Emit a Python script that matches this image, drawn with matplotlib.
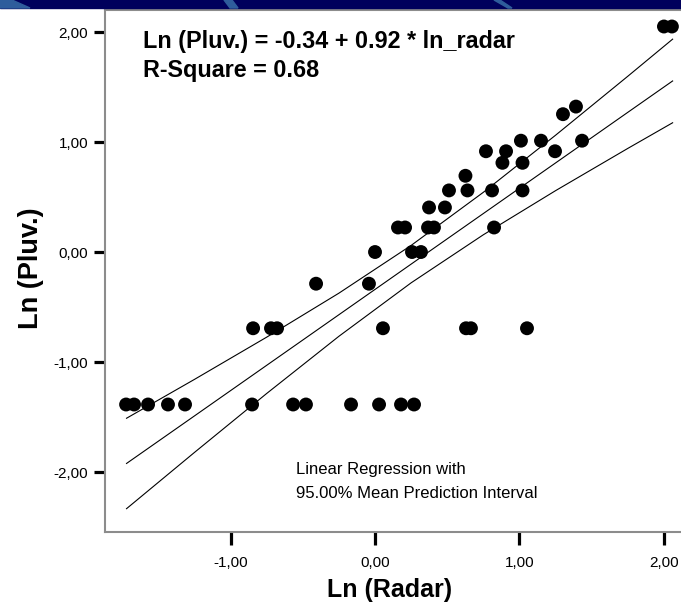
import matplotlib

matplotlib.use("Agg")
import matplotlib.pyplot as plt
from matplotlib.patches import Rectangle, Polygon

plt.rcParams["font.family"] = ["Liberation Sans", "DejaVu Sans"]

# scatter data (ln radar vs ln gauge)
ln_radar = [
    -1.723, -1.668, -1.571, -1.433, -1.315, -0.851, -0.567, -0.478, -0.166, 0.028, 0.180, 0.270,
    -0.844, -0.720, -0.678, 0.055, 0.630, 0.664, 1.052,
    -0.408, -0.042,
    0.000, 0.256, 0.318,
    0.159, 0.208, 0.367, 0.408, 0.824,
    0.374, 0.484,
    0.512, 0.640, 0.810, 1.021,
    0.626,
    0.882, 1.021,
    0.768, 0.907, 1.246,
    1.010, 1.149, 1.433,
    1.301,
    1.391,
    2.000, 2.055,
]
ln_pluv = (
    [-1.386] * 12 + [-0.693] * 7 + [-0.288] * 2 + [0.0] * 3 + [0.223] * 5
    + [0.405] * 2 + [0.560] * 4 + [0.693] + [0.811] * 2 + [0.916] * 3
    + [1.012] * 3 + [1.253] + [1.322] + [2.050] * 2
)

# fit line and 95% mean prediction band
band_x = [-1.72, -1.25, -0.75, -0.25, 0.25, 0.75, 1.25, 1.75, 2.06]
fit_y = [-1.922, -1.490, -1.030, -0.570, -0.110, 0.350, 0.810, 1.270, 1.555]
upper_y = [-1.511, -1.158, -0.774, -0.374, 0.060, 0.543, 1.062, 1.598, 1.935]
lower_y = [-2.333, -1.822, -1.286, -0.766, -0.280, 0.157, 0.558, 0.942, 1.175]

x_ticks = [-1, 0, 1, 2]
x_tick_labels = ["-1,00", "0,00", "1,00", "2,00"]
y_ticks = [-2, -1, 0, 1, 2]
y_tick_labels = ["-2,00", "-1,00", "0,00", "1,00", "2,00"]

W, H = 681, 606
fig = plt.figure(figsize=(W / 100, H / 100), dpi=100)

# slide background strip at the top
fig.patches.append(Rectangle((0, 1 - 8 / H), 1, 8 / H, transform=fig.transFigure,
                             color="#00005c", zorder=0))
for xs in ([0, 12, 30, 0], [224, 232, 238, 230], [494, 500, 512, 508]):
    pts = [(xs[0] / W, 1), (xs[1] / W, 1), (xs[2] / W, 1 - 8 / H), (xs[3] / W, 1 - 8 / H)]
    fig.patches.append(Polygon(pts, closed=True, transform=fig.transFigure,
                               color="#2f5d9c", zorder=1))

ax = fig.add_axes([105 / W, 74 / H, 576 / W, 522 / H])
ax.set_xlim(-1.869, 2.118)
ax.set_ylim(-2.545, 2.2)

ax.plot(band_x, upper_y, color="black", lw=0.8)
ax.plot(band_x, fit_y, color="black", lw=0.8)
ax.plot(band_x, lower_y, color="black", lw=0.8)
ax.scatter(ln_radar, ln_pluv, s=100, color="black", edgecolors="none", zorder=3)

for side in ("left", "bottom", "top"):
    ax.spines[side].set_color("#8c8c8c")
    ax.spines[side].set_linewidth(1.5)
ax.spines["right"].set_visible(False)

ax.set_xticks(x_ticks)
ax.set_xticklabels(x_tick_labels)
ax.set_yticks(y_ticks)
ax.set_yticklabels(y_tick_labels)
ax.tick_params(axis="x", length=9.5, width=2.3, color="black", pad=8, labelsize=11)
ax.tick_params(axis="y", length=8, width=2.3, color="black", pad=4, labelsize=11)

fig.text(390 / W, 1 - 590 / H, "Ln (Radar)", fontsize=18, fontweight="bold",
         ha="center", va="center")
fig.text(31 / W, 1 - 268 / H, "Ln (Pluv.)", fontsize=19.5, fontweight="bold",
         ha="center", va="center", rotation=90)

fig.text(143 / W, 1 - 48 / H, "Ln (Pluv.) = -0.34 + 0.92 * ln_radar",
         fontsize=16.8, fontweight="bold", va="baseline")
fig.text(143 / W, 1 - 77 / H, "R-Square = 0.68",
         fontsize=16.8, fontweight="bold", va="baseline")
fig.text(296 / W, 1 - 474 / H, "Linear Regression with", fontsize=12, va="baseline")
fig.text(296 / W, 1 - 498 / H, "95.00% Mean Prediction Interval", fontsize=12, va="baseline")

fig.savefig("out.png", dpi=100)
